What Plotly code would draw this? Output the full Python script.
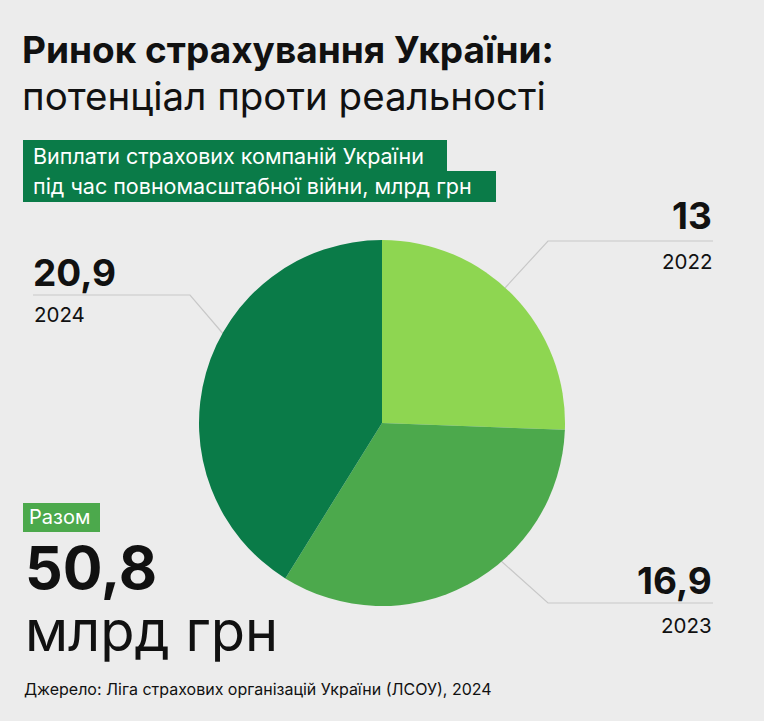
import plotly.graph_objects as go

years = ["2022", "2023", "2024"]
values = [13, 16.9, 20.9]
value_labels = ["13", "16,9", "20,9"]
colors = ["#8ed651", "#4ca94c", "#0a7b48"]
total_label = "50,8"

W, H = 764, 721
BG = "#ececec"

def px(x):
    return x / W

def py(y):
    return 1 - y / H

fig = go.Figure()
fig.add_trace(go.Pie(
    labels=years, values=values, sort=False, direction="clockwise", rotation=0,
    marker=dict(colors=colors, line=dict(width=0)),
    textinfo="none", hoverinfo="label+value", showlegend=False,
    domain=dict(x=[px(199), px(565)], y=[py(606), py(240)]),
))

FONT = "Inter"
ann = []
shapes = []

def text(x, y, s, size, color="#111", bold=False, xanchor="left"):
    ann.append(dict(x=px(x), y=py(y), xref="paper", yref="paper", text=(f"<b>{s}</b>" if bold else s),
                    showarrow=False, xanchor=xanchor, yanchor="middle",
                    font=dict(family=FONT, size=size, color=color)))

def rect(x0, y0, x1, y1, color):
    shapes.append(dict(type="rect", xref="paper", yref="paper", x0=px(x0), x1=px(x1), y0=py(y1), y1=py(y0),
                       fillcolor=color, line=dict(width=0), layer="below"))

def line(pts):
    path = "M " + " L ".join(f"{px(a)},{py(b)}" for a, b in pts)
    shapes.append(dict(type="path", xref="paper", yref="paper", path=path,
                       line=dict(color="#c8c8c8", width=1.2), layer="below"))

# title
text(20, 50, "Ринок страхування України:", 37, bold=True)
text(20, 96, "потенціал проти реальності", 38.5)

# subtitle box
rect(23, 140, 447, 171, "#0a7b48")
rect(23, 171, 496, 202, "#0a7b48")
text(31, 156, "Виплати страхових компаній України", 21.5, color="white")
text(31, 186, "під час повномасштабної війни, млрд грн", 21.5, color="white")

# leader lines
line([(505, 288), (548, 241), (713, 241)])
line([(500, 560), (548, 603), (713, 603)])
line([(33, 295), (190, 295), (225, 336)])

# labels
text(714, 216, value_labels[0], 37, bold=True, xanchor="right")
text(714, 261, years[0], 20.5, xanchor="right")
text(714, 580, value_labels[1], 37, bold=True, xanchor="right")
text(714, 625, years[1], 20.5, xanchor="right")
text(31, 272, value_labels[2], 37, bold=True)
text(32, 314, years[2], 20.5)

# total
rect(23, 503, 100, 532, "#4ca94c")
text(27, 517, "Разом", 20, color="white")
text(23, 567, total_label, 59, bold=True)
text(23, 631, "млрд грн", 56)

# source
text(22, 689, "Джерело: Ліга страхових організацій України (ЛСОУ), 2024", 16)

fig.update_layout(
    width=W, height=H, margin=dict(l=0, r=0, t=0, b=0),
    paper_bgcolor=BG, plot_bgcolor=BG,
    annotations=ann, shapes=shapes,
)
fig.write_html("out.html", config={"displayModeBar": False},
               post_script="document.body.style.margin='0';document.body.style.overflow='hidden';")
